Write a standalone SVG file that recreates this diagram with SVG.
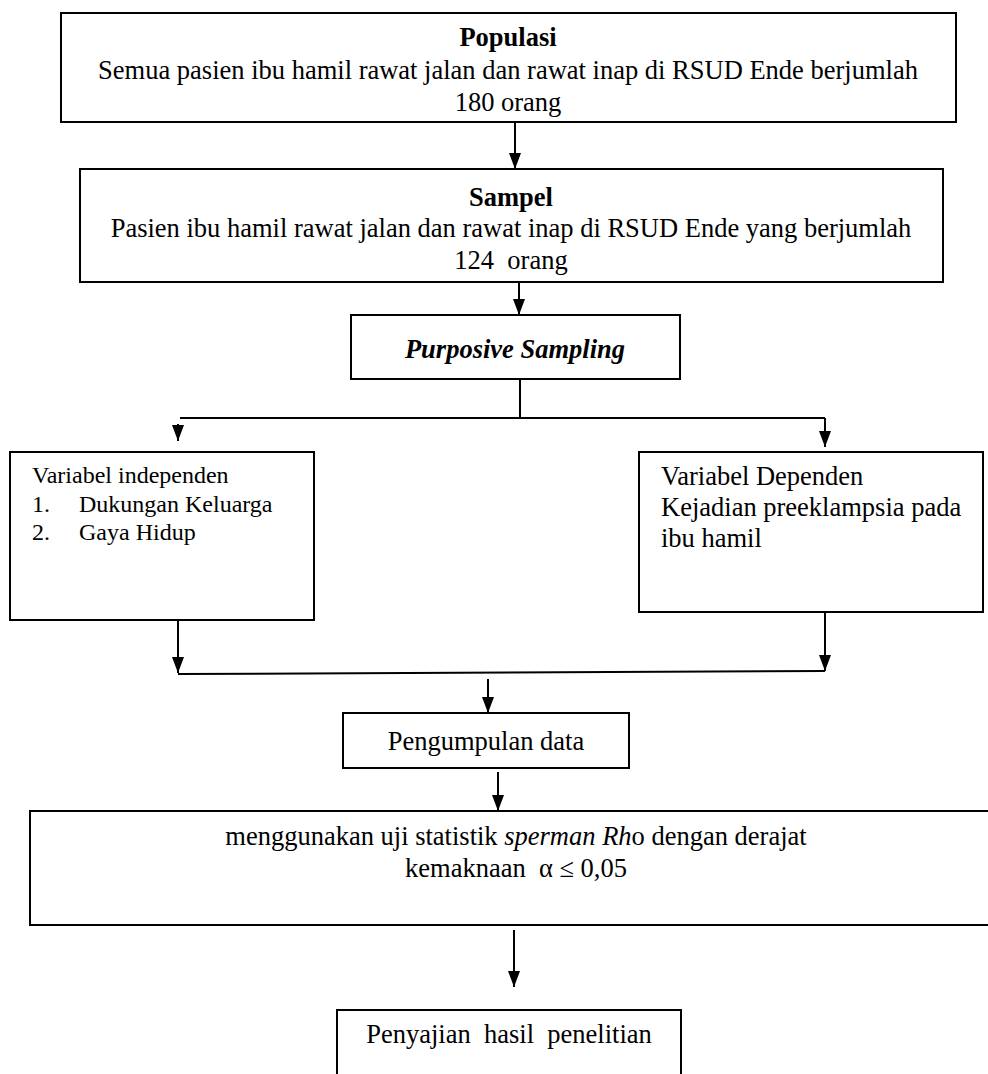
<svg xmlns="http://www.w3.org/2000/svg" width="988" height="1074" viewBox="0 0 988 1074">
<defs>
<style>
.box{fill:#fff;stroke:#000;stroke-width:2}
.t{font-family:"Liberation Serif","Times New Roman",serif;font-size:26.5px;fill:#000}
.c{text-anchor:middle}
.s24{font-size:24px}
.b{font-weight:bold}
.i{font-style:italic}
.ln{fill:none;stroke:#000;stroke-width:2}
.ar{fill:none;stroke:#000;stroke-width:2;marker-end:url(#ah)}
</style>
<marker id="ah" viewBox="0 0 16 12" markerWidth="16" markerHeight="12" refX="16" refY="6" orient="auto" markerUnits="userSpaceOnUse">
<path d="M0,0 L16,6 L0,12 z" fill="#000"/>
</marker>
</defs>
<rect width="988" height="1074" fill="#fff"/>

<g id="populasi">
<rect class="box" x="61" y="13" width="895" height="109"/>
<text class="t c b" x="508" y="46">Populasi</text>
<text class="t c" x="508" y="79">Semua pasien ibu hamil rawat jalan dan rawat inap di RSUD Ende berjumlah</text>
<text class="t c" x="508" y="111">180 orang</text>
</g>

<g id="sampel">
<rect class="box" x="80" y="169" width="863" height="113"/>
<text class="t c b" x="511" y="206">Sampel</text>
<text class="t c" x="511" y="237">Pasien ibu hamil rawat jalan dan rawat inap di RSUD Ende yang berjumlah</text>
<text class="t c" x="511" y="269" xml:space="preserve">124  orang</text>
</g>

<g id="purposive">
<rect class="box" x="351" y="315" width="329" height="64"/>
<text class="t c b i" x="515" y="358">Purposive Sampling</text>
</g>

<g id="independen">
<rect class="box" x="10" y="452" width="304" height="168"/>
<text class="t s24" x="32" y="483">Variabel independen</text>
<text class="t s24" x="32" y="512">1.</text>
<text class="t s24" x="79" y="512">Dukungan Keluarga</text>
<text class="t s24" x="32" y="540">2.</text>
<text class="t s24" x="79" y="540">Gaya Hidup</text>
</g>

<g id="dependen">
<rect class="box" x="639" y="452" width="344" height="160"/>
<text class="t" x="661" y="485">Variabel Dependen</text>
<text class="t" x="661" y="516">Kejadian preeklampsia pada</text>
<text class="t" x="661" y="547">ibu hamil</text>
</g>

<g id="pengumpulan">
<rect class="box" x="343" y="713" width="286" height="55"/>
<text class="t c" x="486" y="750">Pengumpulan data</text>
</g>

<g id="uji">
<rect class="box" x="30" y="811" width="980" height="114"/>
<text class="t c" x="516" y="845">menggunakan uji statistik <tspan class="i">sperman Rh</tspan>o dengan derajat</text>
<text class="t c" x="516" y="877" xml:space="preserve">kemaknaan  α ≤ 0,05</text>
</g>

<g id="penyajian">
<rect class="box" x="337" y="1010" width="344" height="90"/>
<text class="t c" x="509" y="1043" xml:space="preserve">Penyajian  hasil  penelitian</text>
</g>

<g id="connectors">
<path class="ar" d="M515,122 V169"/>
<path class="ar" d="M519,282 V315"/>
<path class="ln" d="M520,379 V418"/>
<path class="ln" d="M180,418 H825"/>
<path class="ar" d="M178,424 V441"/>
<path class="ar" d="M825,418 V447"/>
<path class="ar" d="M178,620 V673"/>
<path class="ar" d="M825,612 V671"/>
<path class="ln" d="M178,674 L825,671"/>
<path class="ar" d="M488,679 V713"/>
<path class="ar" d="M498,772 V811"/>
<path class="ar" d="M514,930 V987"/>
</g>
</svg>
